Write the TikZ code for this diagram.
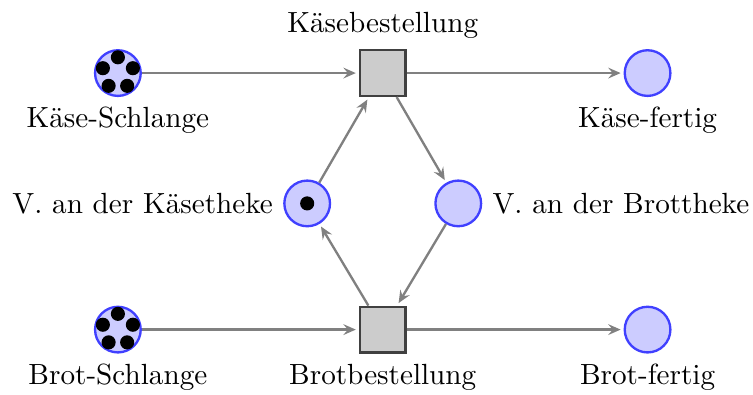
\documentclass[tikz,border=0pt]{standalone}
\usepackage{fontspec}
\usetikzlibrary{arrows.meta}

\tikzset{
  place/.style={circle,draw=blue!75,fill=blue!20,thick,minimum size=5.5mm,inner sep=0pt},
  transition/.style={rectangle,draw=black!75,fill=black!20,thick,minimum size=5.5mm,inner sep=0pt},
  token/.style={circle,fill=black,minimum size=1.7mm,inner sep=0pt},
  flow/.style={draw=black!50,thick,-{Stealth[length=1.5mm,width=1.3mm,inset=0.55mm]},shorten >=1pt}
}

\begin{document}
\begin{tikzpicture}
\useasboundingbox (0,0) rectangle (9.07,4.75);
% queues, orders and done places
\node[place,label=below:Käse-Schlange] (kschlange) at (1.42,3.87) {};
\node[transition,label=above:Käsebestellung] (kbest) at (4.61,3.87) {};
\node[place,label=below:Käse-fertig] (kfertig) at (7.80,3.87) {};
\node[place,label=below:Brot-Schlange] (bschlange) at (1.42,0.78) {};
\node[transition,label=below:Brotbestellung] (bbest) at (4.61,0.78) {};
\node[place,label=below:Brot-fertig] (bfertig) at (7.80,0.78) {};
% the two sellers
\node[place,label=left:V. an der Käsetheke] (vkaese) at (3.70,2.30) {};
\node[place,label=right:V. an der Brottheke] (vbrot) at (5.52,2.30) {};
% tokens
\foreach \a [count=\i] in {90,162,234,306,378} {
  \node[token] (kt\i) at ([shift={(\a:0.19)}]kschlange) {};
  \node[token] (bt\i) at ([shift={(\a:0.19)}]bschlange) {};
}
\node[token] (vt) at (vkaese) {};
% arcs
\draw[flow] (kschlange) -- (kbest);
\draw[flow] (kbest) -- (kfertig);
\draw[flow] (kbest) -- (vbrot);
\draw[flow] (vbrot) -- (bbest);
\draw[flow] (bbest) -- (vkaese);
\draw[flow] (vkaese) -- (kbest);
\draw[flow] (bschlange) -- (bbest);
\draw[flow] (bbest) -- (bfertig);
\end{tikzpicture}
\end{document}
